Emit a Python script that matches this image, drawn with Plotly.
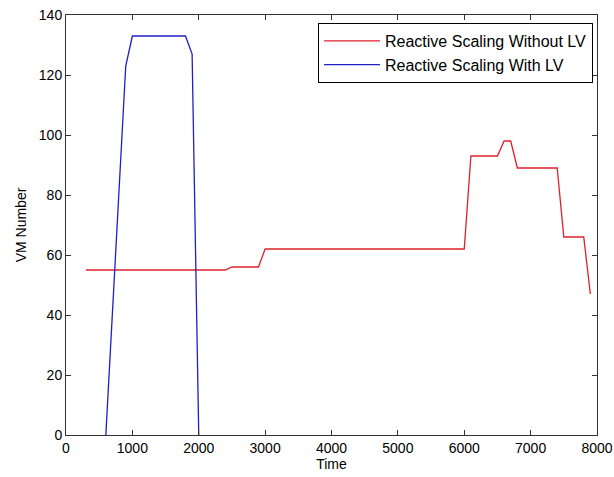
import plotly.graph_objects as go

time_without_lv = [300, 2400, 2500, 2900, 3000, 6000, 6100, 6500, 6600, 6700, 6800, 7400, 7500, 7800, 7900]
vm_without_lv = [55, 55, 56, 56, 62, 62, 93, 93, 98, 98, 89, 89, 66, 66, 47]

time_with_lv = [600, 700, 800, 900, 950, 1000, 1800, 1900, 2000]
vm_with_lv = [0, 41, 82, 123, 128, 133, 133, 127, 0]

x_ticks = [0, 1000, 2000, 3000, 4000, 5000, 6000, 7000, 8000]
y_ticks = [0, 20, 40, 60, 80, 100, 120, 140]

font = "Liberation Sans, Arial, sans-serif"

fig = go.Figure()
fig.add_trace(go.Scatter(x=time_without_lv, y=vm_without_lv, mode="lines",
                         name="Reactive Scaling Without LV",
                         line=dict(color="#e0202c", width=1.3)))
fig.add_trace(go.Scatter(x=time_with_lv, y=vm_with_lv, mode="lines",
                         name="Reactive Scaling With LV",
                         line=dict(color="#1f1fc8", width=1.3)))

axis_common = dict(showline=True, linecolor="#333333", linewidth=1, mirror="ticks",
                   ticks="inside", ticklen=5, tickcolor="#333333", showgrid=False,
                   zeroline=False, automargin=False,
                   tickfont=dict(family=font, size=14, color="black"))

fig.update_layout(
    width=614, height=477,
    margin=dict(l=66, r=17, t=15, b=42),
    paper_bgcolor="white", plot_bgcolor="white",
    font=dict(family=font, size=14, color="black"),
    xaxis=dict(range=[0, 8000], tickvals=x_ticks, ticktext=[str(v) for v in x_ticks],
               title=dict(text="Time", standoff=4, font=dict(size=14)), **axis_common),
    yaxis=dict(range=[0, 140], tickvals=y_ticks, ticktext=[str(v) for v in y_ticks],
               title=dict(text="VM Number", standoff=8, font=dict(size=14)), **axis_common),
    legend=dict(x=0.9925, y=0.981, xanchor="right", yanchor="top",
                bordercolor="black", borderwidth=1, bgcolor="white",
                font=dict(family=font, size=16), itemwidth=56,
                tracegroupgap=0),
    showlegend=True,
)

fig.write_html("out.html")
